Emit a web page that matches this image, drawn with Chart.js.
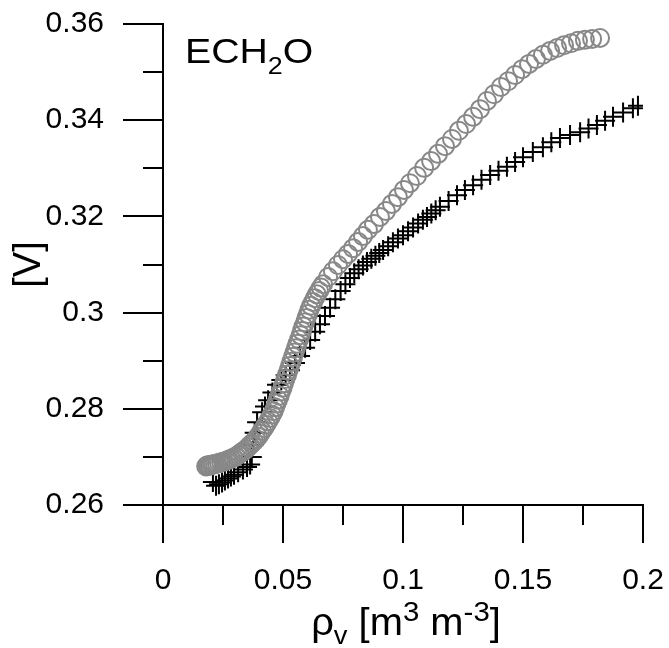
<!DOCTYPE html>
<html>
<head>
<meta charset="utf-8">
<script src="https://cdn.jsdelivr.net/npm/chart.js@4.4.1/dist/chart.umd.min.js"></script>
<style>
  html, body { margin: 0; padding: 0; background: #fff; }
  #wrap { width: 669px; height: 648px; }
</style>
</head>
<body>
<div id="wrap"><canvas id="echoChart" width="669" height="648"></canvas></div>
<script>
// ===== Data =====
// gray open circles: [rho_v, V]
const circlePoints = [
  [0.0180, 0.2680], [0.0183, 0.2682], [0.0187, 0.2681], [0.0192, 0.2683], [0.0197, 0.2682],
  [0.0203, 0.2684], [0.0210, 0.2684], [0.0217, 0.2685], [0.0225, 0.2686], [0.0233, 0.2688],
  [0.0242, 0.2689], [0.0252, 0.2690], [0.0263, 0.2692], [0.0273, 0.2694], [0.0283, 0.2696],
  [0.0293, 0.2698], [0.0304, 0.2701], [0.0313, 0.2704], [0.0321, 0.2707], [0.0330, 0.2710],
  [0.0338, 0.2713], [0.0346, 0.2716], [0.0354, 0.2720], [0.0362, 0.2724], [0.0371, 0.2728],
  [0.0379, 0.2732], [0.0388, 0.2737], [0.0396, 0.2742], [0.0404, 0.2748], [0.0412, 0.2754],
  [0.0421, 0.2760], [0.0429, 0.2767], [0.0438, 0.2774], [0.0446, 0.2781], [0.0454, 0.2788],
  [0.0461, 0.2795], [0.0467, 0.2803], [0.0473, 0.2811], [0.0479, 0.2819], [0.0486, 0.2827],
  [0.0492, 0.2836], [0.0498, 0.2844], [0.0504, 0.2853], [0.0510, 0.2862], [0.0517, 0.2871],
  [0.0523, 0.2880], [0.0529, 0.2889], [0.0535, 0.2898], [0.0542, 0.2908], [0.0548, 0.2917],
  [0.0554, 0.2926], [0.0560, 0.2935], [0.0567, 0.2944], [0.0573, 0.2953], [0.0579, 0.2962],
  [0.0585, 0.2971], [0.0592, 0.2980], [0.0598, 0.2989], [0.0604, 0.2997], [0.0610, 0.3006],
  [0.0617, 0.3014], [0.0625, 0.3022], [0.0633, 0.3030], [0.0641, 0.3038], [0.0650, 0.3045],
  [0.0658, 0.3052], [0.0667, 0.3059], [0.0688, 0.3074], [0.0708, 0.3086], [0.0729, 0.3099],
  [0.0750, 0.3111], [0.0771, 0.3122], [0.0792, 0.3134], [0.0813, 0.3147], [0.0833, 0.3159],
  [0.0854, 0.3172], [0.0879, 0.3184], [0.0904, 0.3199], [0.0929, 0.3211], [0.0954, 0.3226],
  [0.0979, 0.3240], [0.1004, 0.3255], [0.1029, 0.3269], [0.1058, 0.3284], [0.1088, 0.3301],
  [0.1117, 0.3315], [0.1146, 0.3330], [0.1175, 0.3346], [0.1204, 0.3361], [0.1233, 0.3378],
  [0.1263, 0.3392], [0.1292, 0.3407], [0.1321, 0.3423], [0.1350, 0.3440], [0.1379, 0.3454],
  [0.1408, 0.3469], [0.1438, 0.3481], [0.1467, 0.3494], [0.1496, 0.3506], [0.1525, 0.3517],
  [0.1554, 0.3527], [0.1583, 0.3536], [0.1613, 0.3544], [0.1642, 0.3550], [0.1671, 0.3556],
  [0.1700, 0.3560], [0.1729, 0.3565], [0.1758, 0.3567], [0.1788, 0.3569], [0.1821, 0.3571]
];

// black crosses: [rho_v, V]
const crossPoints = [
  [0.0208, 0.2648], [0.0221, 0.2640], [0.0233, 0.2643], [0.0246, 0.2647], [0.0258, 0.2651],
  [0.0271, 0.2655], [0.0283, 0.2659], [0.0296, 0.2663], [0.0313, 0.2668], [0.0333, 0.2674],
  [0.0350, 0.2679], [0.0363, 0.2684], [0.0370, 0.2700], [0.0376, 0.2725], [0.0382, 0.2750],
  [0.0392, 0.2772], [0.0413, 0.2793], [0.0425, 0.2805], [0.0438, 0.2818], [0.0456, 0.2834],
  [0.0475, 0.2850], [0.0493, 0.2860], [0.0511, 0.2870], [0.0529, 0.2880], [0.0550, 0.2895],
  [0.0571, 0.2910], [0.0592, 0.2927], [0.0613, 0.2943], [0.0634, 0.2960], [0.0654, 0.2976],
  [0.0675, 0.2993], [0.0696, 0.3010], [0.0718, 0.3028], [0.0740, 0.3045], [0.0760, 0.3059],
  [0.0779, 0.3072], [0.0797, 0.3082], [0.0815, 0.3090], [0.0833, 0.3098], [0.0850, 0.3105],
  [0.0868, 0.3112], [0.0885, 0.3118], [0.0901, 0.3124], [0.0917, 0.3130], [0.0938, 0.3138],
  [0.0958, 0.3146], [0.0979, 0.3154], [0.1000, 0.3161], [0.1021, 0.3169], [0.1042, 0.3177],
  [0.1063, 0.3185], [0.1083, 0.3193], [0.1100, 0.3199], [0.1118, 0.3206], [0.1136, 0.3213],
  [0.1154, 0.3220], [0.1190, 0.3232], [0.1225, 0.3244], [0.1258, 0.3255], [0.1292, 0.3265],
  [0.1327, 0.3276], [0.1363, 0.3286], [0.1398, 0.3295], [0.1433, 0.3303], [0.1467, 0.3313],
  [0.1500, 0.3323], [0.1541, 0.3334], [0.1583, 0.3344], [0.1618, 0.3354], [0.1654, 0.3363],
  [0.1696, 0.3369], [0.1738, 0.3375], [0.1773, 0.3383], [0.1808, 0.3390], [0.1842, 0.3399],
  [0.1875, 0.3407], [0.1917, 0.3416], [0.1958, 0.3425], [0.1979, 0.3430]
];

const xTicks = [0, 0.05, 0.1, 0.15, 0.2];
const xMinorTicks = [0.025, 0.075, 0.125, 0.175];
const yTicks = [0.26, 0.28, 0.3, 0.32, 0.34, 0.36];
const yMinorTicks = [0.27, 0.29, 0.31, 0.33, 0.35];

const yTitle = '[V]';
// [text, font size, baseline shift]
const sensorLabel = [['ECH', 35, 0], ['2', 24, 11], ['O', 35, 0]];
const xTitle = [['ρ', 38, 0], ['v', 26, 9], [' [m', 38, 0], ['3', 28, -14], [' m', 38, 0], ['-3', 28, -14], [']', 38, 0]];

const FONT = "'Liberation Sans', Arial, sans-serif";

// ===== Helpers =====
const toXY = pts => pts.map(([x, y]) => ({ x, y }));
const fmt = v => String(+v.toFixed(3));
const noPad = s => { s.paddingLeft = 0; s.paddingRight = 0; s.paddingTop = 0; s.paddingBottom = 0; };

// rich text (sub/superscripts), slightly stretched like the original figure
const drawRich = (ctx, x, y, parts, align = 'left', stretch = 1.12) => {
  ctx.save();
  ctx.fillStyle = '#000';
  ctx.textBaseline = 'alphabetic';
  ctx.textAlign = 'left';
  const widths = parts.map(([t, size]) => {
    ctx.font = `${size}px ${FONT}`;
    return ctx.measureText(t).width;
  });
  const total = widths.reduce((a, b) => a + b, 0) * stretch;
  ctx.translate(align === 'center' ? x - total / 2 : x, y);
  ctx.scale(stretch, 1);
  let cx = 0;
  parts.forEach(([t, size, dy], i) => {
    ctx.font = `${size}px ${FONT}`;
    ctx.fillText(t, cx, dy);
    cx += widths[i];
  });
  ctx.restore();
};

const extrasPlugin = {
  id: 'extras',
  afterDraw(chart) {
    const { ctx, scales: { x, y } } = chart;
    ctx.save();
    ctx.strokeStyle = '#000';
    ctx.lineWidth = 2;
    ctx.beginPath();
    xMinorTicks.forEach(v => {
      const px = Math.round(x.getPixelForValue(v));
      ctx.moveTo(px, x.top);
      ctx.lineTo(px, x.top + 20);
    });
    yMinorTicks.forEach(v => {
      const py = Math.round(y.getPixelForValue(v));
      ctx.moveTo(y.right, py);
      ctx.lineTo(y.right - 20, py);
    });
    ctx.stroke();
    ctx.restore();

    drawRich(ctx, 185, 63, sensorLabel);
    drawRich(ctx, (x.left + x.right) / 2 + 3, 635, xTitle, 'center', 1.05);
  }
};

// ===== Chart =====
new Chart(document.getElementById('echoChart'), {
  type: 'scatter',
  data: {
    datasets: [
      {
        label: 'circles',
        data: toXY(circlePoints),
        pointStyle: 'circle',
        pointRadius: 9,
        borderWidth: 2,
        borderColor: '#888888',
        backgroundColor: 'rgba(0,0,0,0)',
        showLine: false
      },
      {
        label: 'crosses',
        data: toXY(crossPoints),
        pointStyle: 'cross',
        pointRadius: 10,
        borderWidth: 2,
        borderColor: '#000000',
        backgroundColor: '#000000',
        showLine: false
      }
    ]
  },
  options: {
    responsive: false,
    animation: false,
    events: [],
    layout: { padding: { left: 0, right: 26, top: 24, bottom: 0 } },
    plugins: { legend: { display: false }, tooltip: { enabled: false } },
    scales: {
      x: {
        type: 'linear',
        min: 0,
        max: 0.2,
        afterBuildTicks: s => { s.ticks = xTicks.map(v => ({ value: v })); },
        afterFit: s => { s.height = 143; noPad(s); },
        grid: { drawOnChartArea: false, color: '#000', lineWidth: 2, tickLength: 38 },
        border: { color: '#000', width: 2 },
        ticks: {
          color: '#000',
          font: { family: FONT, size: 30 },
          padding: 20,
          maxRotation: 0,
          autoSkip: false,
          callback: v => fmt(v)
        }
      },
      y: {
        type: 'linear',
        min: 0.26,
        max: 0.36,
        afterBuildTicks: s => { s.ticks = yTicks.map(v => ({ value: v })); },
        afterFit: s => { s.width = 163; noPad(s); },
        grid: { drawOnChartArea: false, color: '#000', lineWidth: 2, tickLength: 40 },
        border: { color: '#000', width: 2 },
        title: {
          display: true,
          text: yTitle,
          color: '#000',
          font: { family: FONT, size: 38 },
          padding: { top: 7, bottom: 0 }
        },
        ticks: {
          color: '#000',
          font: { family: FONT, size: 30 },
          padding: 19,
          autoSkip: false,
          callback: v => fmt(v)
        }
      }
    }
  },
  plugins: [extrasPlugin]
});
</script>
</body>
</html>
